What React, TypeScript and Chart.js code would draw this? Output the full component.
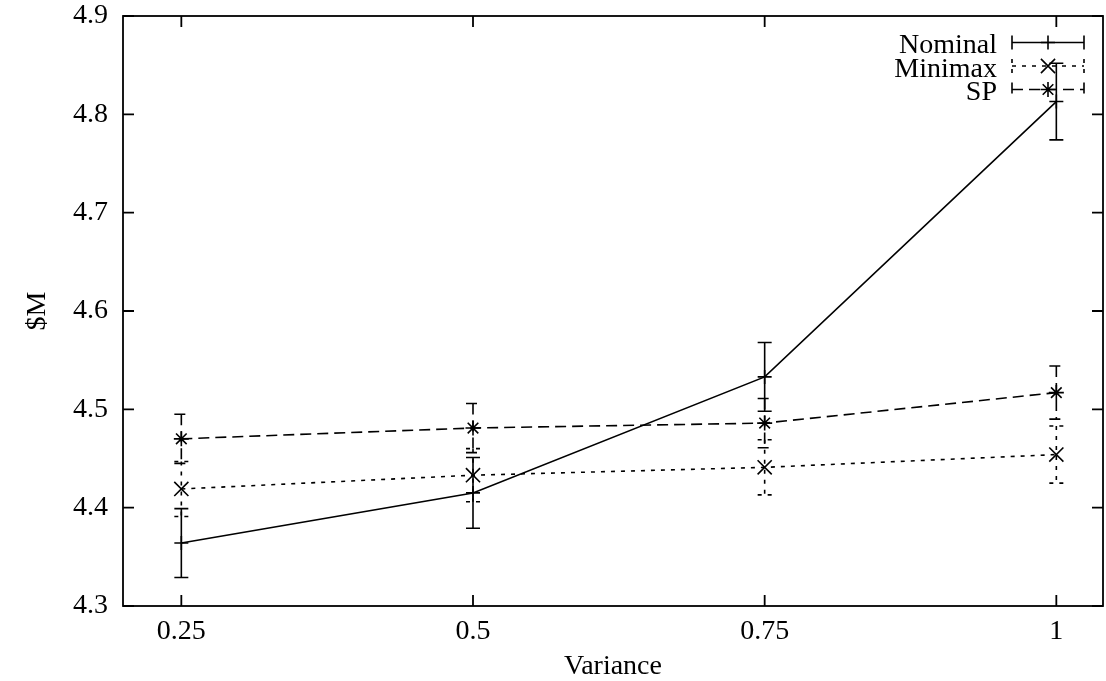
import React, { useEffect, useRef } from 'react';
import { Chart, registerables } from 'chart.js';

Chart.register(...registerables);

// ---- data ----
const variance = [0.25, 0.5, 0.75, 1];
const xTickLabels = ['0.25', '0.5', '0.75', '1'];
const yTickValues = [4.3, 4.4, 4.5, 4.6, 4.7, 4.8, 4.9];
const seriesNames = ['Nominal', 'Minimax', 'SP'];
const nominal = [4.364, 4.415, 4.533, 4.813];
const nominalErr = [0.035, 0.036, 0.035, 0.039];
const minimax = [4.419, 4.433, 4.441, 4.454];
const minimaxErr = [0.028, 0.027, 0.028, 0.029];
const sp = [4.470, 4.481, 4.486, 4.517];
const spErr = [0.025, 0.025, 0.025, 0.027];

const FONT = "'Liberation Serif', 'Times New Roman', serif";
const INK = '#000000';
const LW = 1.6;

function drawSymbol(ctx: CanvasRenderingContext2D, style: string, x: number, y: number, r: number) {
  ctx.beginPath();
  if (style === 'cross' || style === 'star') {
    ctx.moveTo(x - r, y); ctx.lineTo(x + r, y);
    ctx.moveTo(x, y - r); ctx.lineTo(x, y + r);
  }
  if (style === 'crossRot' || style === 'star') {
    const d = r * 0.707;
    ctx.moveTo(x - d, y - d); ctx.lineTo(x + d, y + d);
    ctx.moveTo(x - d, y + d); ctx.lineTo(x + d, y - d);
  }
  ctx.stroke();
}

const CAP = 7;

const errorBarPlugin = {
  id: 'errorBars',
  afterDatasetsDraw(chart: any) {
    const ctx = chart.ctx as CanvasRenderingContext2D;
    const ys = chart.scales.y;
    chart.data.datasets.forEach((ds: any, i: number) => {
      const meta = chart.getDatasetMeta(i);
      ctx.save();
      ctx.strokeStyle = ds.borderColor;
      ctx.lineWidth = ds.borderWidth;
      ctx.setLineDash(ds.borderDash || []);
      meta.data.forEach((pt: any, j: number) => {
        const v = ds.data[j].y;
        const e = ds.errors[j];
        const x = pt.x;
        const y1 = ys.getPixelForValue(v + e);
        const y2 = ys.getPixelForValue(v - e);
        ctx.beginPath();
        ctx.moveTo(x, y1); ctx.lineTo(x, y2);
        ctx.moveTo(x - CAP, y1); ctx.lineTo(x + CAP, y1);
        ctx.moveTo(x - CAP, y2); ctx.lineTo(x + CAP, y2);
        ctx.stroke();
      });
      ctx.restore();
    });
  },
};

const framePlugin = {
  id: 'frameTicks',
  afterDraw(chart: any) {
    const ctx = chart.ctx as CanvasRenderingContext2D;
    const { left, right, top, bottom } = chart.chartArea;
    const xs = chart.scales.x;
    const ys = chart.scales.y;
    const T = 11;
    ctx.save();
    ctx.strokeStyle = INK;
    ctx.lineWidth = 1.8;
    ctx.setLineDash([]);
    ctx.strokeRect(left, top, right - left, bottom - top);
    ctx.beginPath();
    xs.ticks.forEach((t: any) => {
      const px = xs.getPixelForValue(t.value);
      ctx.moveTo(px, bottom); ctx.lineTo(px, bottom - T);
      ctx.moveTo(px, top); ctx.lineTo(px, top + T);
    });
    ys.ticks.forEach((t: any) => {
      const py = ys.getPixelForValue(t.value);
      ctx.moveTo(left, py); ctx.lineTo(left + T, py);
      ctx.moveTo(right, py); ctx.lineTo(right - T, py);
    });
    ctx.stroke();
    ctx.restore();
  },
};

const legendPlugin = {
  id: 'gnuLegend',
  afterDraw(chart: any) {
    const ctx = chart.ctx as CanvasRenderingContext2D;
    const textRight = 997;
    const x0 = 1012;
    const x1 = 1084;
    const xm = (x0 + x1) / 2;
    const rowY = [42.5, 66, 89.5];
    ctx.save();
    ctx.font = `28px ${FONT}`;
    ctx.fillStyle = INK;
    ctx.textAlign = 'right';
    ctx.textBaseline = 'alphabetic';
    chart.data.datasets.forEach((ds: any, i: number) => {
      const y = rowY[i];
      ctx.fillText(ds.label, textRight, y + 10.5);
      ctx.strokeStyle = ds.borderColor;
      ctx.lineWidth = ds.borderWidth;
      ctx.setLineDash(ds.borderDash || []);
      ctx.beginPath();
      ctx.moveTo(x0, y); ctx.lineTo(x1, y);
      ctx.moveTo(x0, y - CAP); ctx.lineTo(x0, y + CAP);
      ctx.moveTo(x1, y - CAP); ctx.lineTo(x1, y + CAP);
      ctx.stroke();
      ctx.setLineDash([]);
      drawSymbol(ctx, ds.pointStyle, xm, y, ds.pointRadius);
    });
    ctx.restore();
  },
};

const zeroPad = (s: any) => {
  s.paddingTop = 0;
  s.paddingBottom = 0;
  s.paddingLeft = 0;
  s.paddingRight = 0;
};

export default function App() {
  const ref = useRef<HTMLCanvasElement | null>(null);

  useEffect(() => {
    if (!ref.current) return;
    const mk = (vals: number[]) => vals.map((v, i) => ({ x: variance[i], y: v }));
    const chart = new Chart(ref.current, {
      type: 'line',
      data: {
        datasets: [
          {
            label: seriesNames[0],
            data: mk(nominal),
            errors: nominalErr,
            borderColor: INK,
            borderWidth: LW,
            borderDash: [],
            pointStyle: 'cross',
            pointRadius: 7,
            pointBorderColor: INK,
            pointBorderWidth: LW,
            fill: false,
            tension: 0,
          } as any,
          {
            label: seriesNames[1],
            data: mk(minimax),
            errors: minimaxErr,
            borderColor: INK,
            borderWidth: LW,
            borderDash: [4, 6],
            pointStyle: 'crossRot',
            pointRadius: 10,
            pointBorderColor: INK,
            pointBorderWidth: LW,
            fill: false,
            tension: 0,
          } as any,
          {
            label: seriesNames[2],
            data: mk(sp),
            errors: spErr,
            borderColor: INK,
            borderWidth: LW,
            borderDash: [11, 6],
            pointStyle: 'star',
            pointRadius: 7.5,
            pointBorderColor: INK,
            pointBorderWidth: LW,
            fill: false,
            tension: 0,
          } as any,
        ],
      },
      options: {
        animation: false,
        responsive: false,
        layout: { autoPadding: false, padding: { top: 16, right: 3, left: 0, bottom: 0 } },
        plugins: {
          legend: { display: false },
          tooltip: { enabled: false },
        },
        scales: {
          x: {
            type: 'linear',
            min: 0.2,
            max: 1.04,
            grid: { display: false, drawTicks: false },
            border: { display: false },
            afterBuildTicks: (s: any) => {
              s.ticks = variance.map((v) => ({ value: v }));
            },
            afterFit: (s: any) => {
              s.height = 75;
              zeroPad(s);
            },
            ticks: {
              color: INK,
              padding: 12,
              maxRotation: 0,
              autoSkip: false,
              font: { family: FONT, size: 28, lineHeight: 1 },
              callback: (_v: any, i: number) => xTickLabels[i],
            },
            title: {
              display: true,
              text: 'Variance',
              color: INK,
              padding: { top: 0, bottom: 0 },
              font: { family: FONT, size: 28, lineHeight: 1 },
            },
          },
          y: {
            type: 'linear',
            min: 4.3,
            max: 4.9,
            grid: { display: false, drawTicks: false },
            border: { display: false },
            afterBuildTicks: (s: any) => {
              s.ticks = yTickValues.map((v) => ({ value: v }));
            },
            afterFit: (s: any) => {
              s.width = 123;
              zeroPad(s);
            },
            ticks: {
              color: INK,
              padding: 15,
              autoSkip: false,
              font: { family: FONT, size: 28, lineHeight: 1 },
              callback: (v: any) => Number(v).toFixed(1),
            },
            title: {
              display: true,
              text: '$M',
              color: INK,
              padding: { top: 24, bottom: 0 },
              font: { family: FONT, size: 28, lineHeight: 1 },
            },
          },
        },
      } as any,
      plugins: [errorBarPlugin, framePlugin, legendPlugin],
    });
    return () => chart.destroy();
  }, []);

  return (
    <div style={{ position: 'absolute', left: 0, top: 0, width: 1106, height: 681, background: '#ffffff' }}>
      <canvas ref={ref} width={1106} height={681} style={{ display: 'block', width: 1106, height: 681 }} />
    </div>
  );
}
